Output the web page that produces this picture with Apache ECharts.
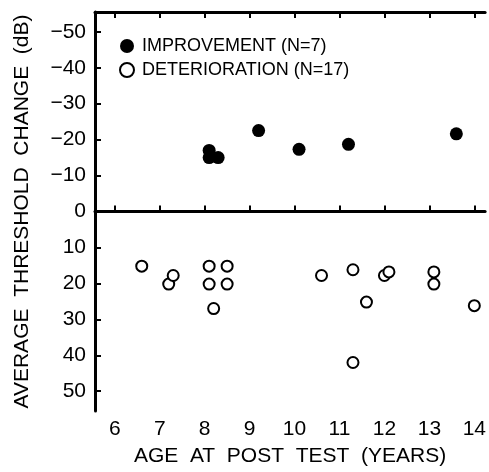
<!DOCTYPE html>
<html>
<head>
<meta charset="utf-8">
<script src="https://cdn.jsdelivr.net/npm/echarts@6/dist/echarts.min.js"></script>
<style>
html,body{margin:0;padding:0;background:#fff;}
#chart{width:489px;height:472px;}
</style>
</head>
<body>
<div id="chart"></div>
<script>
var improvementAge = [8.1, 8.1, 8.3, 9.2, 10.1, 11.2, 13.6];
var improvementChange = [-17, -15, -15, -22.5, -17.3, -18.7, -21.6];
var deteriorationAge = [6.6, 7.2, 7.3, 8.1, 8.1, 8.5, 8.5, 8.2, 10.6, 11.3, 11.6, 12.0, 12.1, 13.1, 13.1, 14.0, 11.3];
var deteriorationChange = [15.2, 20.2, 17.8, 15.2, 20.2, 15.2, 20.2, 27, 17.8, 16.2, 25.2, 17.8, 16.8, 16.8, 20.2, 26.2, 42];
var xTicks = [6, 7, 8, 9, 10, 11, 12, 13, 14];
var yTicks = [-50, -40, -30, -20, -10, 0, 10, 20, 30, 40, 50];
var seriesNames = ['IMPROVEMENT (N=7)', 'DETERIORATION (N=17)'];
var xTitle = 'AGE  AT  POST  TEST  (YEARS)';
var yTitle = 'AVERAGE  THRESHOLD  CHANGE  (dB)';

function pairs(xs, ys) { return xs.map(function (x, i) { return [x, ys[i]]; }); }

var font = 'Liberation Sans';
var chart = echarts.init(document.getElementById('chart'), null, {renderer: 'canvas'});
var axisLine = {show: true, lineStyle: {color: '#000', width: 3}};
var axisTick = {show: true, inside: true, length: 6, lineStyle: {color: '#000', width: 2}};
chart.setOption({
  animation: false,
  backgroundColor: '#fff',
  grid: {left: 95, right: 0, top: 12, bottom: 54},
  legend: {
    orient: 'vertical', left: 114, top: 32, itemGap: 6,
    itemWidth: 14, itemHeight: 14,
    textStyle: {fontFamily: font, fontSize: 18, color: '#000', padding: [0, 0, 0, 3]},
    data: [
      {name: seriesNames[0], icon: 'circle'},
      {name: seriesNames[1], icon: 'circle'}
    ]
  },
  xAxis: [{
    type: 'value', position: 'bottom', min: 5.56, max: 14.24,
    axisLine: axisLine,
    axisTick: Object.assign({customValues: xTicks}, axisTick),
    axisLabel: {customValues: xTicks, fontFamily: font, fontSize: 21, color: '#000', margin: 8},
    splitLine: {show: false},
    name: xTitle, nameLocation: 'middle', nameGap: 35,
    nameTextStyle: {fontFamily: font, fontSize: 21, color: '#000'}
  }, {
    type: 'value', position: 'top', min: 5.56, max: 14.24,
    axisLine: axisLine,
    axisTick: Object.assign({customValues: xTicks}, axisTick),
    axisLabel: {show: false},
    splitLine: {show: false}
  }],
  yAxis: {
    type: 'value', inverse: true, min: -55.5, max: 55.5,
    axisLine: axisLine,
    axisTick: Object.assign({customValues: yTicks}, axisTick),
    axisLabel: {customValues: yTicks, fontFamily: font, fontSize: 21, color: '#000', margin: 9,
      formatter: function (v) { return v < 0 ? '\u2212' + Math.abs(v) : String(v); }},
    splitLine: {show: false},
    name: yTitle, nameLocation: 'middle', nameGap: 62, nameRotate: 90,
    nameTextStyle: {fontFamily: font, fontSize: 21, color: '#000'}
  },
  series: [{
    name: seriesNames[0], type: 'scatter', symbol: 'circle', symbolSize: 13,
    itemStyle: {color: '#000', opacity: 1},
    data: pairs(improvementAge, improvementChange)
  }, {
    name: seriesNames[1], type: 'scatter', symbol: 'circle', symbolSize: 11,
    itemStyle: {color: '#fff', borderColor: '#000', borderWidth: 2, opacity: 1},
    data: pairs(deteriorationAge, deteriorationChange)
  }]
});
</script>
</body>
</html>
